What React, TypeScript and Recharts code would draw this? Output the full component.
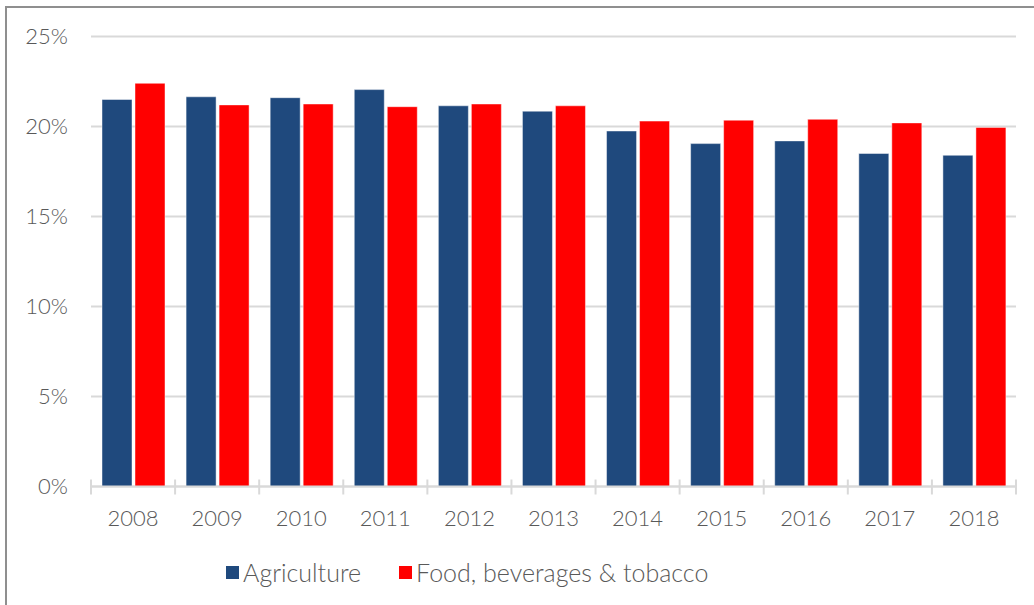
import { BarChart, Bar, XAxis, YAxis, CartesianGrid, Legend } from "recharts"

const years = ["2008", "2009", "2010", "2011", "2012", "2013", "2014", "2015", "2016", "2017", "2018"]
const agriculture = [21.5, 21.65, 21.6, 22.05, 21.15, 20.85, 19.75, 19.05, 19.2, 18.5, 18.4]
const foodBevTobacco = [22.4, 21.2, 21.25, 21.1, 21.25, 21.15, 20.3, 20.35, 20.4, 20.2, 19.95]
const yTicks = [0, 5, 10, 15, 20, 25]

const series = [
  { key: "agriculture", name: "Agriculture", color: "#1F497D" },
  { key: "food", name: "Food, beverages & tobacco", color: "#FF0000" },
]

const data = years.map((year, i) => ({
  year,
  agriculture: agriculture[i],
  food: foodBevTobacco[i],
}))

const FONT = "Lato, 'Open Sans', sans-serif"
const TEXT = "#595959"
const GRID = "#d9d9d9"

const YearTick = (props: any) => {
  const { x, y, payload, index, visibleTicksCount } = props
  const half = payload && payload.offset ? payload.offset : 42
  const last = index === visibleTicksCount - 1
  return (
    <g>
      <line x1={x - half} x2={x - half} y1={y - 7} y2={y + 8} stroke={GRID} strokeWidth={2} />
      {last && <line x1={x + half} x2={x + half} y1={y - 7} y2={y + 8} stroke={GRID} strokeWidth={2} />}
      <text x={x} y={y + 39.5} textAnchor="middle" fill={TEXT} fontSize={22} fontWeight={300} fontFamily={FONT}>
        {payload.value}
      </text>
    </g>
  )
}

const LegendContent = () => (
  <div style={{ display: "flex", alignItems: "center", paddingLeft: 226, fontFamily: FONT, fontSize: 25, fontWeight: 300, color: TEXT }}>
    {series.map((s, i) => (
      <div key={s.key} style={{ display: "flex", alignItems: "center", marginLeft: i === 0 ? 0 : 38 }}>
        <span style={{ display: "inline-block", width: 13, height: 13, background: s.color, marginRight: 4 }} />
        <span>{s.name}</span>
      </div>
    ))}
  </div>
)

export default function App() {
  return (
    <div style={{ position: "absolute", left: 0, top: 0, width: 1034, height: 605, overflow: "hidden", background: "#fff" }}>
      <div style={{ position: "absolute", left: 5, top: 6, width: 1100, height: 700, border: "2px solid #8f8f8f", boxSizing: "border-box" }} />
      <div style={{ position: "absolute", left: 0, top: 0 }}>
        <BarChart
          width={1034}
          height={605}
          data={data}
          margin={{ top: 36.5, right: 18, left: 0, bottom: 88.5 }}
          barCategoryGap={11}
          barGap={3}
        >
          <CartesianGrid vertical={false} stroke={GRID} strokeWidth={2} />
          <XAxis
            dataKey="year"
            height={30}
            tickLine={false}
            tickSize={0}
            tickMargin={0}
            axisLine={{ stroke: GRID, strokeWidth: 2 }}
            tick={<YearTick />}
            interval={0}
          />
          <YAxis
            width={91}
            domain={[0, 25]}
            ticks={yTicks}
            tickFormatter={(v: number) => `${v}%`}
            axisLine={false}
            tickLine={false}
            tickSize={0}
            tickMargin={23}
            tick={{ fill: TEXT, fontSize: 22, fontWeight: 300, fontFamily: FONT }}
          />
          <Legend
            verticalAlign="middle"
            align="center"
            layout="horizontal"
            wrapperStyle={{ top: 557, left: 0, width: 1034 }}
            content={<LegendContent />}
          />
          {series.map((s) => (
            <Bar
              key={s.key}
              dataKey={s.key}
              name={s.name}
              fill={s.color}
              stroke="#ffffff"
              strokeOpacity={0.45}
              strokeWidth={1}
              isAnimationActive={false}
            />
          ))}
        </BarChart>
      </div>
    </div>
  )
}
